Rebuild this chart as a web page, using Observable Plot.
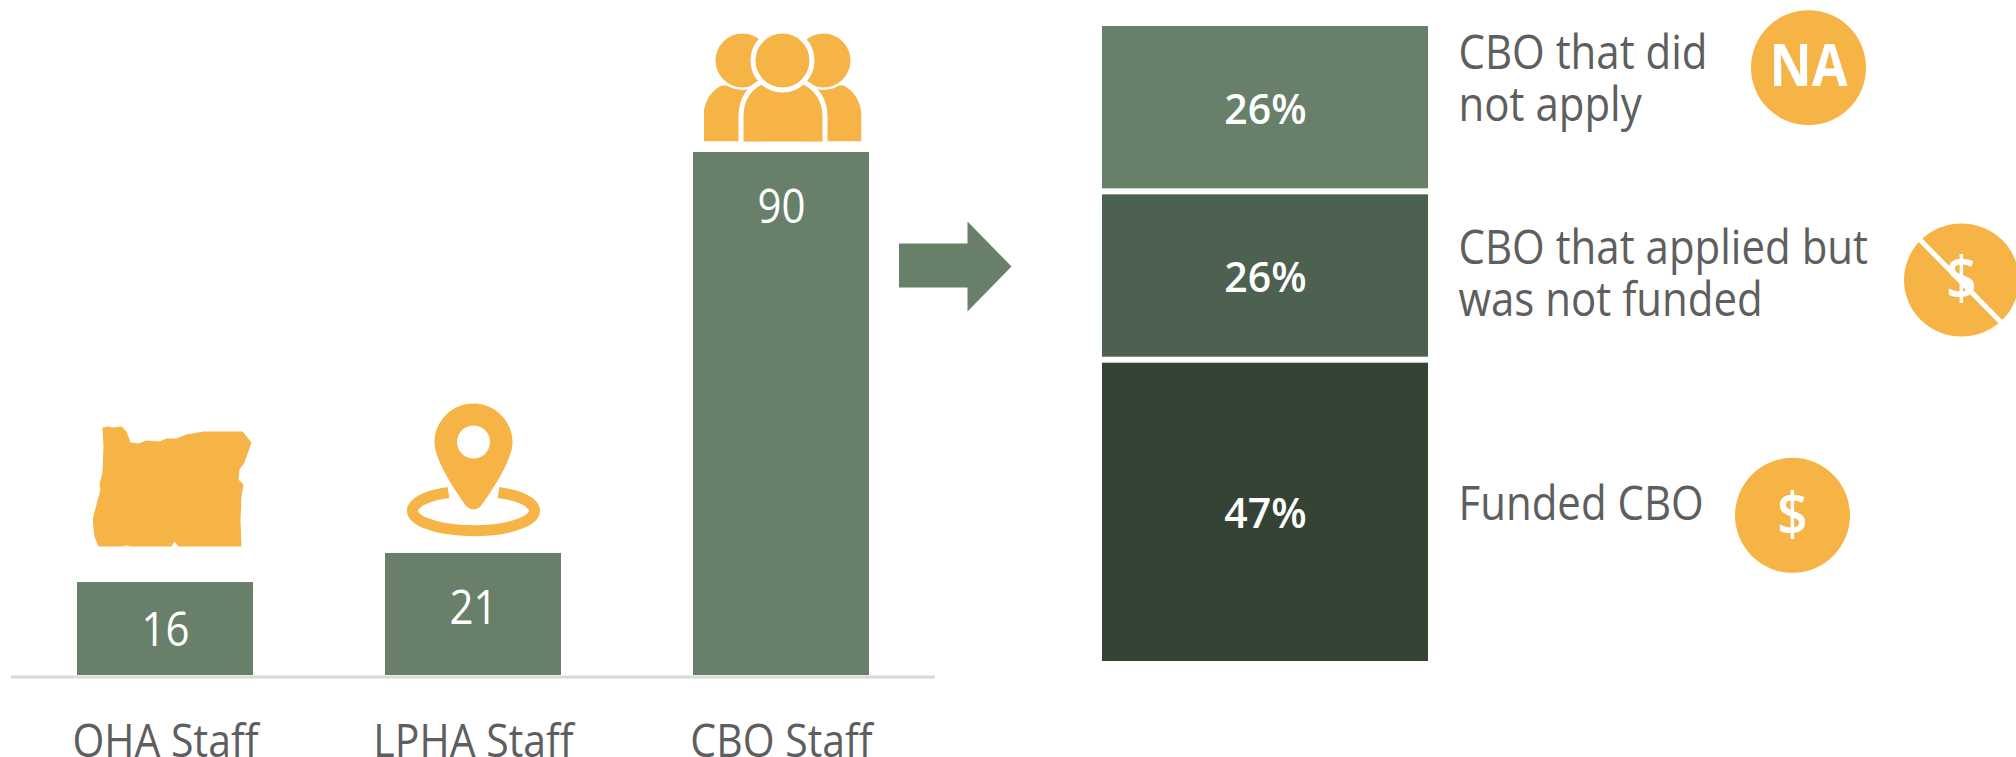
<!DOCTYPE html>
<html>
<head>
<meta charset="utf-8">
<script src="https://cdn.jsdelivr.net/npm/d3@7"></script>
<script src="https://cdn.jsdelivr.net/npm/@observablehq/plot@0.6"></script>
<style>
  html, body { margin: 0; background: #fff; }
  #chart { display: flex; width: 2016px; height: 757px; overflow: hidden; }
  svg { flex: none; overflow: visible; }
</style>
</head>
<body>
<div id="chart"></div>
<script>
// Staff counts by organisation type
const staffGroups = ["OHA Staff", "LPHA Staff", "CBO Staff"];
const staffCounts = [16, 21, 90];

// Share of CBO staff by funding status, top segment first
const fundingStatus = ["CBO that did\nnot apply", "CBO that applied but\nwas not funded", "Funded CBO"];
const fundingShares = [26, 26, 47];

const GREEN = "#68806a";
const SEGMENT_FILLS = ["#68806a", "#4c614f", "#354335"];
const ORANGE = "#f5b445";
const INK = "#5e5e5e";
const FONT = "'Open Sans', 'Noto Sans', sans-serif";
const STRETCH = 1.12;

// Small pictograms, stored as inline SVG images
const svgUri = (w, h, body) =>
  "data:image/svg+xml," + encodeURIComponent(
    `<svg xmlns="http://www.w3.org/2000/svg" width="${w}" height="${h}" viewBox="0 0 ${w} ${h}" preserveAspectRatio="none">${body}</svg>`
  );

const oregon = svgUri(160, 123, `<path fill="${ORANGE}" d="M10 3 L16 2 L20 3 L29 2 L34 7 L38 18 L46 19 L54 16 L67 17 L74 14 L84 14 L94 10 L111 7 L150 7 L159 18 L152 38 L147 45 L146 55 L151 60 L149 72 L148 96 L149 122 L86 122 L82 117 L79 122 L38 122 L34 121 L30 122 L6 122 L2 112 L0 95 L8 65 L7 60 L10 48 L11 22 Z"/>`);
const pin = svgUri(134, 135, `<path fill="${ORANGE}" fill-rule="evenodd" d="M67 1 C45 1 28 19 28 40 C28 60 55 97 60 104 Q67 110 74 104 C79 97 106 60 106 40 C106 19 89 1 67 1 Z M67 23 A16.5 16.5 0 1 0 67 56 A16.5 16.5 0 1 0 67 23 Z"/><path fill="none" stroke="${ORANGE}" stroke-width="11" d="M42 90 A61 20 0 1 0 92 90"/>`);
const people = svgUri(158, 110,
  `<path fill="${ORANGE}" d="M0 110 V85 C0 70 8 59 18 54 H60 V110 Z M158 110 V85 C158 70 150 59 140 54 H100 V110 Z"/>` +
  `<g fill="${ORANGE}" stroke="#fff" stroke-width="5" paint-order="stroke">` +
  `<circle cx="39" cy="29" r="27"/><circle cx="120" cy="29" r="27"/>` +
  `<path stroke-width="10" d="M40 116 V85 C40 68 48 58 60 52 Q79 66 98 52 C110 58 119 68 119 85 V116 Z"/>` +
  `<circle stroke-width="10" cx="79" cy="29" r="27"/></g>`);
const arrow = svgUri(114, 90, `<path fill="${GREEN}" d="M0 22 H69 V0 L113 45 L69 90 V66 H0 Z"/>`);
const disc = svgUri(116, 116, `<circle cx="58" cy="58" r="57.5" fill="${ORANGE}"/>`);
const struckDisc = svgUri(116, 114, `<ellipse cx="58" cy="57" rx="57.5" ry="56.5" fill="${ORANGE}"/><path stroke="#fff" stroke-width="5" d="M4 4 L110 112"/>`);

// Text in this chart is slightly taller than the font's own proportions
const tall = (index, scales, values, dimensions, context, next) => {
  const g = next(index, scales, values, dimensions, context);
  for (const t of g.querySelectorAll("text")) {
    t.setAttribute("transform", `${t.getAttribute("transform") || ""} scale(1,${STRETCH})`);
  }
  return g;
};

// Left panel: staff counts
const staffRows = staffGroups.map((group, i) => ({group, count: staffCounts[i]}));
const labelOffset = [48, 55, 55];
const iconPlacement = [
  {src: oregon, w: 160, h: 123, dx: 7, gap: 35},
  {src: pin, w: 134, h: 135, dx: 0, gap: 16},
  {src: people, w: 158, h: 110, dx: 1, gap: 11}
];

const left = Plot.plot({
  width: 1016,
  height: 757,
  marginTop: 0, marginBottom: 82, marginLeft: 11, marginRight: 81,
  style: {fontFamily: FONT, background: "#fff"},
  x: {domain: staffGroups, range: [11, 935], paddingInner: 0.4286, paddingOuter: 0.2143, axis: null},
  y: {domain: [0, 90], range: [675, 152], axis: null},
  marks: [
    Plot.barY(staffRows, {x: "group", y: "count", fill: GREEN}),
    Plot.ruleY([0], {stroke: "#d9d9d9", strokeWidth: 3, dy: 1.5}),
    ...staffRows.map((d, i) => Plot.text([d], {
      x: "group", y: "count", text: "count", dy: labelOffset[i],
      fill: "#fff", fontSize: 42, render: tall
    })),
    Plot.axisX({
      anchor: "bottom", tickSize: 0, label: null, fontSize: 41,
      color: INK, fill: INK, tickPadding: 0, dy: 49, render: tall
    }),
    ...staffRows.map((d, i) => {
      const p = iconPlacement[i];
      return Plot.image([d], {
        x: "group", y: "count", src: () => p.src, width: p.w, height: p.h,
        dx: p.dx, dy: -(p.gap + p.h / 2), preserveAspectRatio: "none"
      });
    }),
    Plot.image([0], {
      src: () => arrow, frameAnchor: "top-left", width: 114, height: 90,
      dx: 944, dy: 266, preserveAspectRatio: "none"
    })
  ]
});

// Right panel: funding status of CBO staff
const tops = d3.cumsum(fundingShares);
const fundingRows = fundingStatus.map((status, i) => ({
  status,
  share: fundingShares[i],
  mid: tops[i] - fundingShares[i] / 2,
  label: `${fundingShares[i]}%`,
  column: "CBO"
}));
const legendPlacement = [
  {dy: -29.5, iconDx: 543, iconDy: -40, src: disc, h: 116, glyph: "NA", glyphSize: 52, weight: 700},
  {dy: -3, iconDx: 696, iconDy: 4, src: struckDisc, h: 114, glyph: "$", glyphSize: 54, weight: 600},
  {dy: -9, iconDx: 527, iconDy: 3, src: disc, h: 116, glyph: "$", glyphSize: 54, weight: 600}
];

const right = Plot.plot({
  width: 1000,
  height: 757,
  marginTop: 0, marginBottom: 0, marginLeft: 86, marginRight: 588,
  style: {fontFamily: FONT, background: "#fff"},
  x: {domain: ["CBO"], range: [86, 412], padding: 0, axis: null},
  y: {domain: [0, 99], range: [23, 664], axis: null},
  marks: [
    Plot.barY(fundingRows, {x: "column", y: "share", fill: (d, i) => SEGMENT_FILLS[i], insetTop: 3, insetBottom: 3}),
    Plot.text(fundingRows, {
      x: "column", y: "mid", text: "label", fill: "#fff",
      fontSize: 41, fontWeight: 600, dy: 3
    }),
    ...fundingRows.flatMap((d, i) => {
      const p = legendPlacement[i];
      return [
        Plot.text([d], {
          x: "column", y: "mid", text: "status", dx: 193, dy: p.dy,
          textAnchor: "start", lineHeight: 1.12, fill: INK, fontSize: 42, render: tall
        }),
        Plot.image([d], {
          x: "column", y: "mid", src: () => p.src, width: 116, height: p.h,
          dx: p.iconDx, dy: p.iconDy, preserveAspectRatio: "none"
        }),
        Plot.text([d], {
          x: "column", y: "mid", text: () => p.glyph, dx: p.iconDx, dy: p.iconDy,
          fill: "#fff", fontSize: p.glyphSize, fontWeight: p.weight, render: tall
        })
      ];
    })
  ]
});

document.getElementById("chart").append(left, right);
</script>
</body>
</html>
